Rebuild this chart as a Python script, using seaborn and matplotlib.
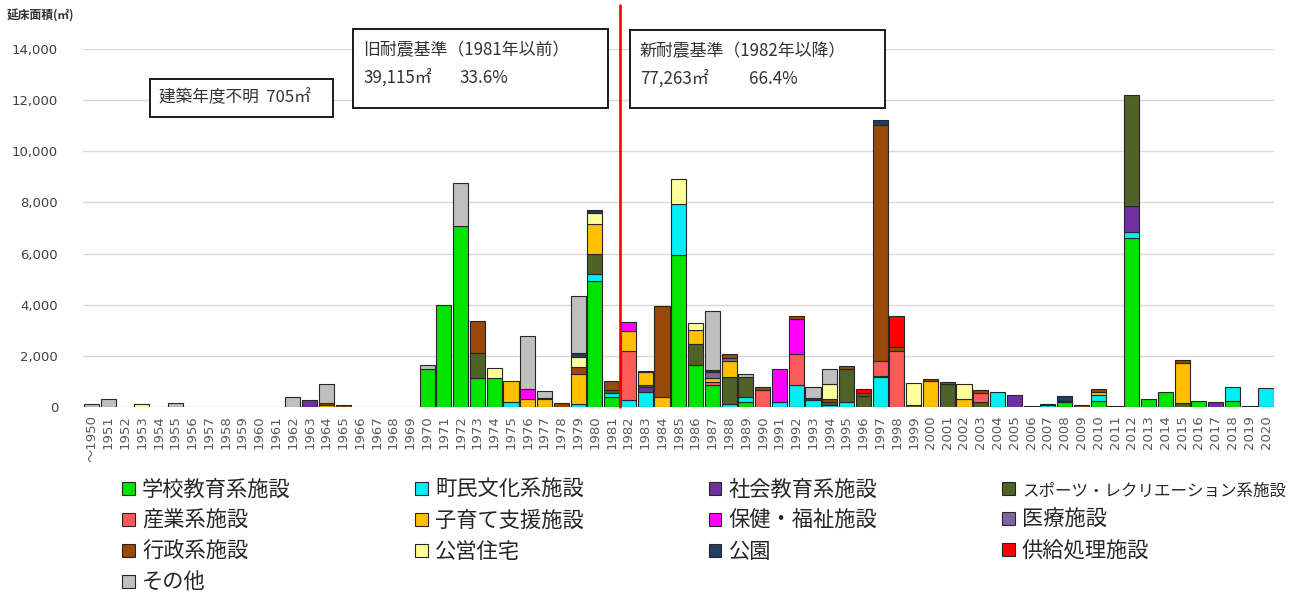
import matplotlib
matplotlib.use("Agg")
import matplotlib.pyplot as plt
from matplotlib.patches import Patch, Rectangle
import pandas as pd
import seaborn as sns

# ---- data: floor area (m2) by construction year and facility type ----
years = list(range(1950, 2021))

categories = [
    "学校教育系施設", "町民文化系施設", "社会教育系施設", "スポーツ・レクリエーション系施設",
    "産業系施設", "子育て支援施設", "保健・福祉施設", "医療施設",
    "行政系施設", "公営住宅", "公園", "供給処理施設", "その他",
]
colors = [
    "#00E400", "#00EEF5", "#7030A0", "#4F6228",
    "#FF5A5A", "#FFC000", "#FF00FF", "#8064A2",
    "#984807", "#FFFF99", "#1F3F66", "#FF0000", "#BFBFBF",
]

school = {1970: 1500, 1971: 4000, 1972: 7070, 1973: 1150, 1974: 1150, 1980: 4940,
          1981: 380, 1985: 5930, 1986: 1640, 1987: 860, 1989: 180, 2008: 200,
          2010: 250, 2012: 6590, 2013: 300, 2014: 600, 2016: 250, 2018: 250}
culture = {1975: 200, 1979: 120, 1980: 260, 1981: 150, 1982: 270, 1983: 580,
           1985: 2020, 1988: 120, 1989: 200, 1991: 210, 1992: 860, 1993: 280,
           1994: 60, 1995: 210, 1997: 1160, 2004: 570, 2006: 20, 2007: 60,
           2008: 50, 2010: 200, 2011: 20, 2012: 260, 2018: 520, 2020: 730}
social_edu = {1963: 260, 1983: 190, 1997: 60, 2005: 480, 2012: 1000, 2017: 200, 2019: 50}
sports = {1973: 950, 1980: 780, 1981: 130, 1983: 90, 1986: 820, 1988: 1040,
          1989: 780, 1994: 150, 1995: 1260, 1996: 440, 1999: 80, 2001: 900,
          2003: 210, 2007: 60, 2012: 4340, 2015: 170}
industry = {1982: 1930, 1987: 100, 1990: 670, 1992: 1210, 1997: 590, 1998: 2200, 2003: 350}
childcare = {1964: 60, 1975: 810, 1976: 300, 1977: 300, 1979: 1170, 1980: 1170,
             1982: 780, 1983: 500, 1984: 400, 1986: 550, 1987: 190, 1988: 640,
             2000: 1010, 2002: 300, 2010: 120, 2015: 1570}
welfare = {1976: 400, 1982: 350, 1991: 1260, 1992: 1390}
medical = {1987: 200, 1988: 120}
admin = {1964: 100, 1965: 90, 1973: 1270, 1977: 40, 1978: 140, 1979: 260,
         1981: 370, 1983: 60, 1984: 3560, 1988: 150, 1990: 130, 1992: 90,
         1994: 100, 1995: 130, 1996: 90, 1997: 9230, 1998: 150, 2000: 70,
         2001: 90, 2003: 100, 2009: 80, 2010: 130, 2015: 100}
housing = {1953: 100, 1974: 360, 1979: 420, 1980: 440, 1985: 980, 1986: 260,
           1994: 580, 1999: 870, 2002: 600}
park = {1979: 160, 1980: 130, 1987: 110, 1993: 60, 1997: 190, 2008: 190}
supply = {1996: 190, 1998: 1220}
other = {1950: 130, 1951: 310, 1955: 150, 1962: 390, 1964: 750, 1970: 140,
         1972: 1690, 1976: 2070, 1977: 270, 1979: 2200, 1987: 2300, 1989: 130,
         1993: 430, 1994: 580}

series = [school, culture, social_edu, sports, industry, childcare, welfare,
          medical, admin, housing, park, supply, other]

rows = [(y, cat, vals.get(y, 0)) for cat, vals in zip(categories, series) for y in years]
df = pd.DataFrame(rows, columns=["year", "category", "area"])
palette = dict(zip(categories, colors))

# ---- figure ----
W, H = 1294, 597
sns.set_theme(style="white")
plt.rcParams["font.family"] = ["Noto Sans CJK JP", "DejaVu Sans"]


def fx(px):
    return px / W


def fy(py):
    return 1 - py / H


fig = plt.figure(figsize=(W / 100, H / 100), dpi=100)
ax = fig.add_axes([fx(83.1), fy(407), fx(1274.4) - fx(83.1), fy(49) - fy(407)])

# seaborn stacks the first hue level on top, so feed the order reversed
sns.histplot(data=df, x="year", weights="area", hue="category",
             hue_order=categories[::-1], palette=palette, multiple="stack",
             discrete=True, shrink=0.9, edgecolor="#262626", linewidth=0.8,
             alpha=1, legend=False, ax=ax)
for p in ax.patches:
    if p.get_height() <= 0:
        p.set_visible(False)

ax.set_xlim(1949.5, 2020.5)
ax.set_ylim(0, 14000)
ax.set_yticks(range(0, 14001, 2000))
ax.set_yticklabels([f"{v:,}" for v in range(0, 14001, 2000)],
                   fontfamily="DejaVu Sans", fontsize=9.5, color="#404040")
ax.set_xticks(years)
xlabels = [str(y) for y in years]
xlabels[0] = "〜1950"
ax.set_xticklabels(xlabels, rotation=90, fontsize=9.5, color="#595959",
                   fontfamily=["DejaVu Sans", "Noto Sans CJK JP"])
ax.tick_params(axis="y", length=0, pad=18)
ax.tick_params(axis="x", length=0, pad=6)
ax.set_xlabel("")
ax.set_ylabel("")
for s in ax.spines.values():
    s.set_visible(False)
ax.yaxis.grid(True, color="#D9D9D9", linewidth=1)
ax.set_axisbelow(True)

# boundary between the old and new seismic standards
ax.axvline(1981.5, ymin=0, ymax=(407 - 5) / (407 - 49), color="#FF0000",
           linewidth=1.9, clip_on=False, zorder=5)

# unit label
fig.text(fx(7), fy(16), "延床面積(㎡)", fontsize=8.5, fontweight="bold",
         color="#333333", ha="left", va="center")


def box(x0, y0, x1, y1):
    fig.add_artist(Rectangle((fx(x0), fy(y1)), fx(x1) - fx(x0), fy(y0) - fy(y1),
                             transform=fig.transFigure, facecolor="white",
                             edgecolor="#1a1a1a", linewidth=1.4, zorder=6))


txt = dict(color="#333333", ha="left", va="center", zorder=7)

box(150, 79, 333, 117)
fig.text(fx(159), fy(98), "建築年度不明  705㎡", fontsize=12, **txt)

box(353, 29, 608, 108)
fig.text(fx(363), fy(50), "旧耐震基準（1981年以前）", fontsize=12.2, **txt)
fig.text(fx(363), fy(78), "39,115㎡", fontsize=12.2, **txt)
fig.text(fx(459), fy(78), "33.6%", fontsize=12.2, **txt)

box(630, 30, 885, 108)
fig.text(fx(640), fy(51), "新耐震基準（1982年以降）", fontsize=12.2, **txt)
fig.text(fx(640), fy(79), "77,263㎡", fontsize=12.2, **txt)
fig.text(fx(749), fy(79), "66.4%", fontsize=12.2, **txt)

# legend laid out row by row across four columns
order = [0, 4, 8, 12, 1, 5, 9, 2, 6, 10, 3, 7, 11]
handles = [Patch(facecolor=colors[i], edgecolor="#262626", linewidth=0.8,
                 label=categories[i]) for i in order]
leg = fig.legend(handles=handles, loc="upper left", bbox_to_anchor=(fx(122), fy(479)),
                 ncol=4, frameon=False, fontsize=15.3, handlelength=0.6,
                 handleheight=0.6, handletextpad=0.35, columnspacing=5.85,
                 labelspacing=0.42, borderpad=0, borderaxespad=0)
for t in leg.get_texts():
    if t.get_text() == categories[3]:
        t.set_fontsize(11.9)

fig.savefig("out.png", dpi=100, facecolor="white")
